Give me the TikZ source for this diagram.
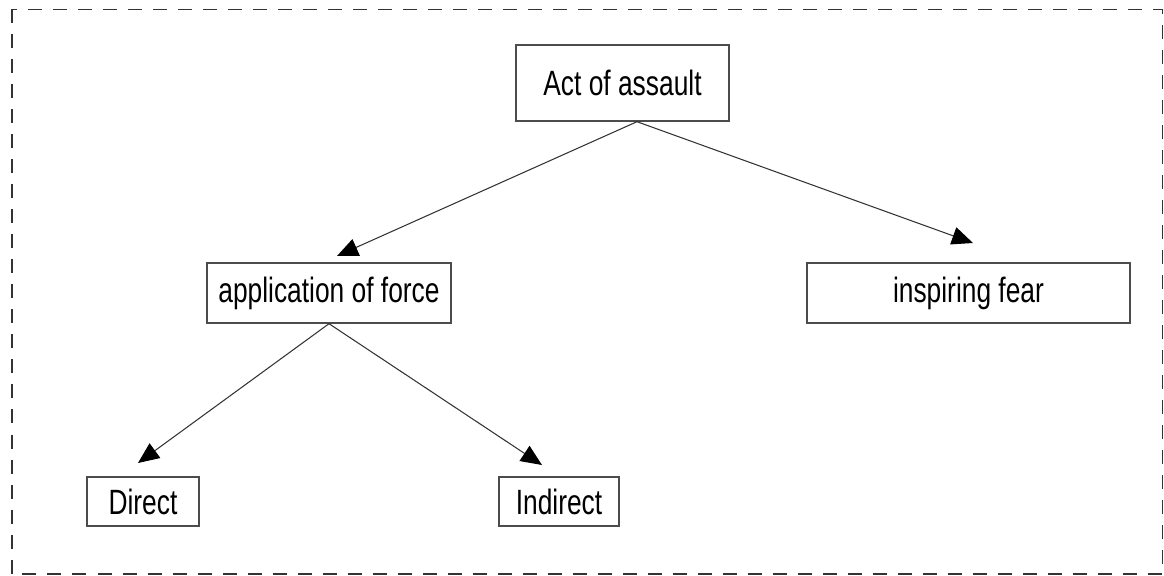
\documentclass[tikz,border=0pt]{standalone}
\usepackage{fontspec}
\setmainfont{Liberation Sans}[FakeStretch=0.75]
\usetikzlibrary{arrows.meta}

\begin{document}
\begin{tikzpicture}[
  box/.style={draw=black!70, line width=0.8pt, inner sep=0pt,
    font=\fontsize{20}{24}\selectfont},
  link/.style={draw=black!80, line width=0.6pt,
    -{Triangle[length=0.42cm,width=0.36cm,color=black]}}
]
\useasboundingbox (0,0) rectangle (23.28,-11.52);
\draw [dashed, dash pattern=on 0.28cm off 0.22cm, line width=1.1pt, black!80]
  (0.24,-0.19) rectangle (23.25,-11.48);

\node [box, minimum width=4.26cm, minimum height=1.52cm] (act) at (12.45,-1.66) {Act of assault};
\node [box, minimum width=4.88cm, minimum height=1.2cm] (force) at (6.58,-5.86) {application of force};
\node [box, minimum width=6.46cm, minimum height=1.2cm] (fear) at (19.37,-5.86) {inspiring fear};
\node [box, minimum width=2.24cm, minimum height=0.98cm] (direct) at (2.86,-10.03) {Direct};
\node [box, minimum width=2.4cm, minimum height=0.98cm] (indirect) at (11.18,-10.03) {Indirect};

% arrow ends stop short of the boxes
\coordinate (actfoot) at ([xshift=0.29cm]act.south);
\coordinate (forcetip) at (6.74,-5.12);
\coordinate (feartip) at (19.46,-4.86);
\coordinate (directtip) at (2.76,-9.26);
\coordinate (indirecttip) at (10.84,-9.30);

\draw [link] (actfoot) -- (forcetip);
\draw [link] (actfoot) -- (feartip);
\draw [link] (force.south) -- (directtip);
\draw [link] (force.south) -- (indirecttip);
\end{tikzpicture}
\end{document}
